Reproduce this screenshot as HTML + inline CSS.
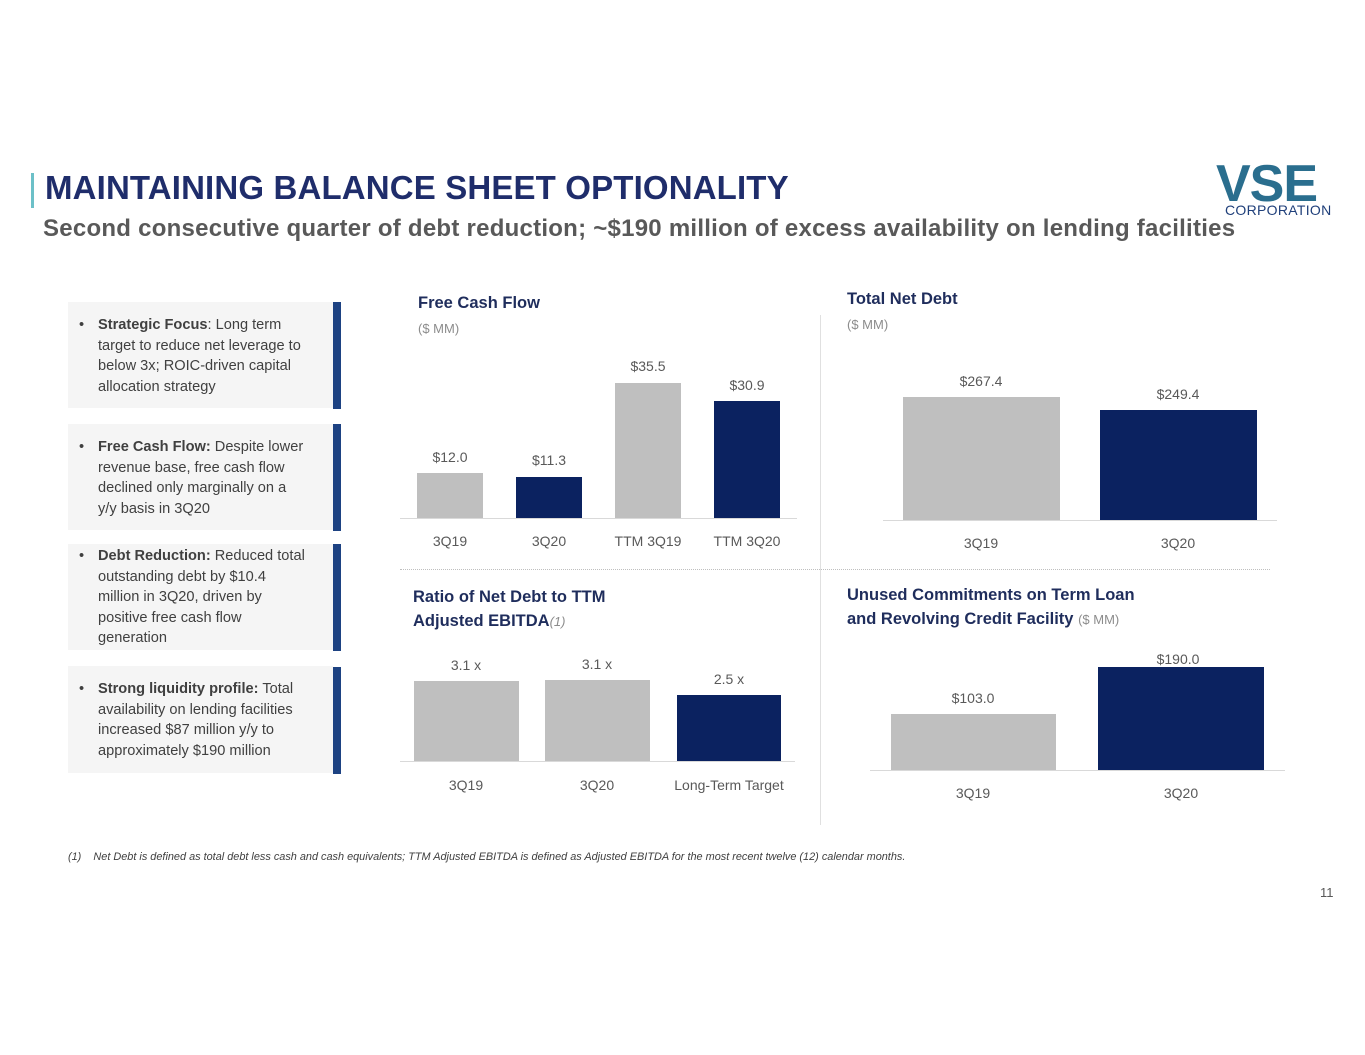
<!DOCTYPE html>
<html><head><meta charset="utf-8"><style>
*{margin:0;padding:0;box-sizing:border-box}
body{width:1365px;height:1055px;background:#fff;position:relative;overflow:hidden;font-family:"Liberation Sans",sans-serif;color:#404040}
.a{position:absolute;white-space:nowrap}
.g{background:#bfbfbf;position:absolute}
.n{background:#0b2260;position:absolute}
.ln{position:absolute;height:1px;background:#d9d9d9}
.v{position:absolute;font-size:14px;color:#595959;transform:translateX(-50%);white-space:nowrap}
.t{position:absolute;font-size:16.5px;font-weight:bold;color:#1f2d5c;white-space:nowrap}
.box{position:absolute;left:68px;width:265px;background:#f5f5f5;font-size:14.6px;line-height:20.5px;padding:13px 0 0 30px;color:#404040;white-space:nowrap}
.bu{position:absolute;left:11px}
.bar{position:absolute;left:333px;width:8px;background:#1d4282}
.box b{color:#404040}
</style></head><body>
<div class="a" style="left:31px;top:173px;width:3px;height:35px;background:#6cc0c8"></div>
<div class="a" style="left:45px;top:169px;font-size:33px;font-weight:bold;color:#1f2d6b;letter-spacing:0.15px">MAINTAINING BALANCE SHEET OPTIONALITY</div>
<div class="a" style="left:43px;top:215px;font-size:24px;font-weight:bold;color:#595959;letter-spacing:0.25px">Second consecutive quarter of debt reduction; ~$190 million of excess availability on lending facilities</div>
<div class="a" style="left:1216px;top:158px;font-size:52px;font-weight:bold;color:#2a6e8e;letter-spacing:-1px;line-height:52px">VSE</div>
<div class="a" style="left:1225px;top:202px;font-size:14px;color:#1f3f7a;letter-spacing:0.3px;background:#fff;line-height:16px">CORPORATION</div>

<div class="box" style="top:302px;height:106px"><span class="bu">•</span><b>Strategic Focus</b>: Long term<br>target to reduce net leverage to<br>below 3x; ROIC-driven capital<br>allocation strategy</div>
<div class="bar" style="top:302px;height:107px"></div>
<div class="box" style="top:424px;height:106px"><span class="bu">•</span><b>Free Cash Flow:</b> Despite lower<br>revenue base, free cash flow<br>declined only marginally on a<br>y/y basis in 3Q20</div>
<div class="bar" style="top:424px;height:107px"></div>
<div class="box" style="top:544px;height:106px;padding-top:2px"><span class="bu">•</span><b>Debt Reduction:</b> Reduced total<br>outstanding debt by $10.4<br>million in 3Q20, driven by<br>positive free cash flow<br>generation</div>
<div class="bar" style="top:544px;height:107px"></div>
<div class="box" style="top:666px;height:107px"><span class="bu">•</span><b>Strong liquidity profile:</b> Total<br>availability on lending facilities<br>increased $87 million y/y to<br>approximately $190 million</div>
<div class="bar" style="top:667px;height:107px"></div>

<div class="a" style="left:820px;top:315px;width:1px;height:510px;background:#e0e0e0"></div>
<div class="a" style="left:400px;top:569px;width:870px;border-top:1px dotted #bfbfbf"></div>

<!-- FCF -->
<div class="t" style="left:418px;top:294px">Free Cash Flow</div>
<div class="a" style="left:418px;top:321px;font-size:13px;color:#8c8c8c">($ MM)</div>
<div class="g" style="left:417px;top:473px;width:66px;height:45px"></div>
<div class="n" style="left:516px;top:477px;width:66px;height:41px"></div>
<div class="g" style="left:615px;top:383px;width:66px;height:135px"></div>
<div class="n" style="left:714px;top:401px;width:66px;height:117px"></div>
<div class="ln" style="left:400px;top:518px;width:397px"></div>
<div class="v" style="left:450px;top:449px">$12.0</div>
<div class="v" style="left:549px;top:452px">$11.3</div>
<div class="v" style="left:648px;top:358px">$35.5</div>
<div class="v" style="left:747px;top:377px">$30.9</div>
<div class="v" style="left:450px;top:533px">3Q19</div>
<div class="v" style="left:549px;top:533px">3Q20</div>
<div class="v" style="left:648px;top:533px">TTM 3Q19</div>
<div class="v" style="left:747px;top:533px">TTM 3Q20</div>

<!-- Net debt -->
<div class="t" style="left:847px;top:290px">Total Net Debt</div>
<div class="a" style="left:847px;top:317px;font-size:13px;color:#8c8c8c">($ MM)</div>
<div class="g" style="left:903px;top:397px;width:157px;height:123px"></div>
<div class="n" style="left:1100px;top:410px;width:157px;height:110px"></div>
<div class="ln" style="left:883px;top:520px;width:394px"></div>
<div class="v" style="left:981px;top:373px">$267.4</div>
<div class="v" style="left:1178px;top:386px">$249.4</div>
<div class="v" style="left:981px;top:535px">3Q19</div>
<div class="v" style="left:1178px;top:535px">3Q20</div>

<!-- Ratio -->
<div class="t" style="left:413px;top:585px;line-height:24px">Ratio of Net Debt to TTM<br>Adjusted EBITDA<span style="font-weight:normal;font-style:italic;font-size:13px;color:#8c8c8c">(1)</span></div>
<div class="g" style="left:414px;top:681px;width:105px;height:80px"></div>
<div class="g" style="left:545px;top:680px;width:105px;height:81px"></div>
<div class="n" style="left:677px;top:695px;width:104px;height:66px"></div>
<div class="ln" style="left:400px;top:761px;width:395px"></div>
<div class="v" style="left:466px;top:657px">3.1 x</div>
<div class="v" style="left:597px;top:656px">3.1 x</div>
<div class="v" style="left:729px;top:671px">2.5 x</div>
<div class="v" style="left:466px;top:777px">3Q19</div>
<div class="v" style="left:597px;top:777px">3Q20</div>
<div class="v" style="left:729px;top:777px">Long-Term Target</div>

<!-- Unused -->
<div class="t" style="left:847px;top:583px;line-height:24px">Unused Commitments on Term Loan<br>and Revolving Credit Facility <span style="font-weight:normal;font-size:13px;color:#8c8c8c">($ MM)</span></div>
<div class="g" style="left:891px;top:714px;width:165px;height:56px"></div>
<div class="n" style="left:1098px;top:667px;width:166px;height:103px"></div>
<div class="ln" style="left:870px;top:770px;width:415px"></div>
<div class="v" style="left:973px;top:690px">$103.0</div>
<div class="v" style="left:1178px;top:651px">$190.0</div>
<div class="v" style="left:973px;top:785px">3Q19</div>
<div class="v" style="left:1181px;top:785px">3Q20</div>

<div class="a" style="left:68px;top:851px;font-size:10.9px;font-style:italic;color:#404040">(1)&nbsp;&nbsp;&nbsp;&nbsp;Net Debt is defined as total debt less cash and cash equivalents; TTM Adjusted EBITDA is defined as Adjusted EBITDA for the most recent twelve (12) calendar months.</div>
<div class="a" style="left:1320px;top:885px;font-size:13px;color:#595959">11</div>
</body></html>
